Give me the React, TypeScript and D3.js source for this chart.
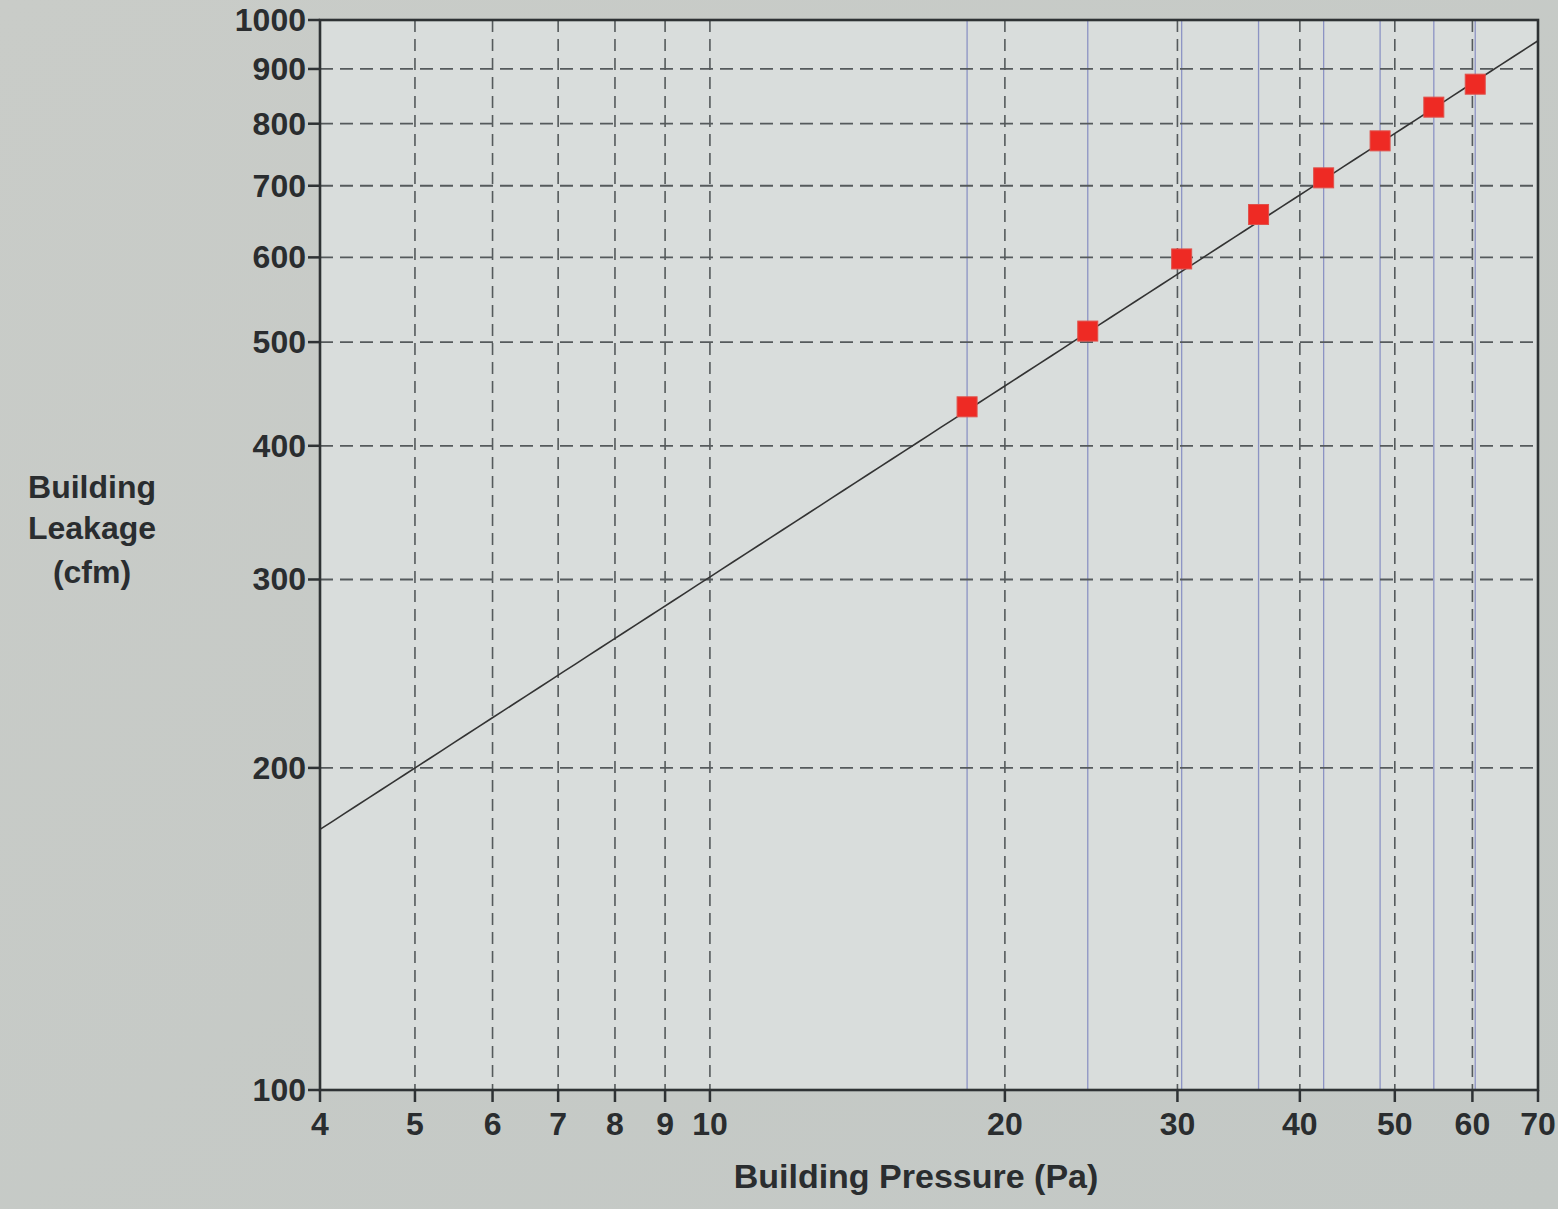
import React from "react";
import * as d3 from "d3";

const pressure = [18.3, 24.3, 30.3, 36.3, 42.3, 48.3, 54.8, 60.4];
const leakage = [435, 512, 598, 658, 712, 771, 829, 871];
const xTicks = [4, 5, 6, 7, 8, 9, 10, 20, 30, 40, 50, 60, 70];
const yTicks = [100, 200, 300, 400, 500, 600, 700, 800, 900, 1000];
const xGrid = [5, 6, 7, 8, 9, 10, 20, 30, 40, 50, 60];
const yGrid = [200, 300, 400, 500, 600, 700, 800, 900];
const fitCoef = 77.0;
const fitExp = 0.593;
const fitRange = [4, 70];

const W = 1558, H = 1209;
const L = 320, R = 1538, T = 20, B = 1090;

export default function App() {
  const x = d3.scaleLog().domain([4, 70]).range([L, R]);
  const y = d3.scaleLog().domain([100, 1000]).range([B, T]);
  const fitPts = d3.range(0, 101).map(i => {
    const p = fitRange[0] * Math.pow(fitRange[1] / fitRange[0], i / 100);
    return [p, fitCoef * Math.pow(p, fitExp)] as [number, number];
  });
  const line = d3.line<[number, number]>().x(d => x(d[0])).y(d => y(d[1]));
  const font = "Arial, 'Liberation Sans', sans-serif";
  return (
    <svg width={W} height={H} style={{ position: "absolute", left: 0, top: 0 }}>
      <defs>
        <linearGradient id="bg" x1="0" y1="0" x2="1" y2="1">
          <stop offset="0" stopColor="#c9ccc8" />
          <stop offset="1" stopColor="#c3c8c5" />
        </linearGradient>
      </defs>
      <rect width={W} height={H} fill="url(#bg)" />
      <rect x={L} y={T} width={R - L} height={B - T} fill="#d9dddc" />
      {pressure.map((p, i) => (
        <line key={"b" + i} x1={x(p)} x2={x(p)} y1={T} y2={B} stroke="#8c93c4" strokeWidth={1.3} />
      ))}
      {xGrid.map(v => (
        <line key={"xg" + v} x1={x(v)} x2={x(v)} y1={T} y2={B} stroke="#555a5c" strokeWidth={1.6} strokeDasharray="12 7" />
      ))}
      {yGrid.map(v => (
        <line key={"yg" + v} x1={L} x2={R} y1={y(v)} y2={y(v)} stroke="#555a5c" strokeWidth={1.8} strokeDasharray="13 7" />
      ))}
      <path d={line(fitPts) || ""} fill="none" stroke="#333" strokeWidth={1.6} />
      {pressure.map((p, i) => (
        <rect key={"p" + i} x={x(p) - 10} y={y(leakage[i]) - 10} width={20} height={20} fill="#ee2a24" stroke="#e0504a" strokeWidth={1} />
      ))}
      <rect x={L} y={T} width={R - L} height={B - T} fill="none" stroke="#2e3234" strokeWidth={2.6} />
      {yTicks.map(v => (
        <g key={"yt" + v}>
          <line x1={L - 12} x2={L} y1={y(v)} y2={y(v)} stroke="#2e3234" strokeWidth={2.5} />
          <text x={L - 14} y={y(v) + 11} textAnchor="end" fontFamily={font} fontSize={32} fontWeight="bold" fill="#2a2d2f">{v}</text>
        </g>
      ))}
      {xTicks.map(v => (
        <g key={"xt" + v}>
          <line x1={x(v)} x2={x(v)} y1={B} y2={B + 12} stroke="#2e3234" strokeWidth={2.5} />
          <text x={x(v)} y={B + 45} textAnchor="middle" fontFamily={font} fontSize={32} fontWeight="bold" fill="#2a2d2f">{v}</text>
        </g>
      ))}
      <text x={916} y={1188} textAnchor="middle" fontFamily={font} fontSize={34} fontWeight="bold" fill="#2a2d2f">Building Pressure (Pa)</text>
      <text textAnchor="middle" fontFamily={font} fontSize={32} fontWeight="bold" fill="#2a2d2f">
        <tspan x={92} y={498}>Building</tspan>
        <tspan x={92} y={539}>Leakage</tspan>
        <tspan x={92} y={583}>(cfm)</tspan>
      </text>
    </svg>
  );
}
